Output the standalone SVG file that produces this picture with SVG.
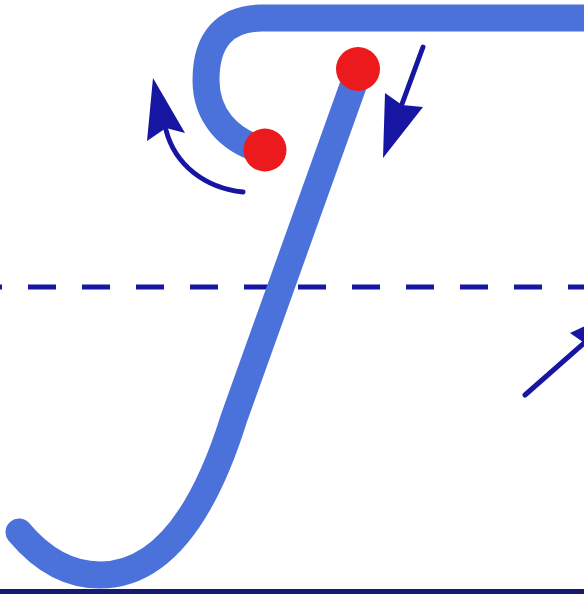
<svg xmlns="http://www.w3.org/2000/svg" width="584" height="594" viewBox="0 0 584 594">
<defs>
<style>
.stroke{fill:none;stroke:#4a72da;stroke-width:27;stroke-linecap:round;stroke-linejoin:round}
.dot{fill:#ec1a1c}
.arrow{fill:none;stroke:#1616a2;stroke-width:5;stroke-linecap:round}
.head{fill:#1616a2}
</style>
</defs>
<rect width="584" height="594" fill="#ffffff"/>
<g id="guides">
<line x1="-26" y1="287" x2="600" y2="287" stroke="#1616a2" stroke-width="5" stroke-dasharray="28 26"/>
<rect x="0" y="589" width="584" height="5" fill="#141c70"/>
</g>
<g id="letter">
<path class="stroke" d="M 610 18 L 262 18 C 225 18 206 40 206 80 C 206 115 228 140 262 150"/>
<path class="stroke" d="M 358 72 L 234 418 Q 185 575 100 575 Q 55 575 19 532"/>
</g>
<g id="dots">
<circle class="dot" cx="265" cy="150" r="21.5"/>
<circle class="dot" cx="358" cy="69" r="22"/>
</g>
<g id="connectors">
<path class="arrow" d="M 243 192 C 205 188 175 165 166 130"/>
<polygon class="head" points="153,78 185,133 166,128 147,141"/>
<path class="arrow" d="M 423 47 L 402 104"/>
<polygon class="head" points="383,158 385,93 402,105 423,107"/>
<path class="arrow" d="M 525 395 L 600 329"/>
<polygon class="head" points="628,306 595,362 586,344 570,333"/>
</g>
</svg>
